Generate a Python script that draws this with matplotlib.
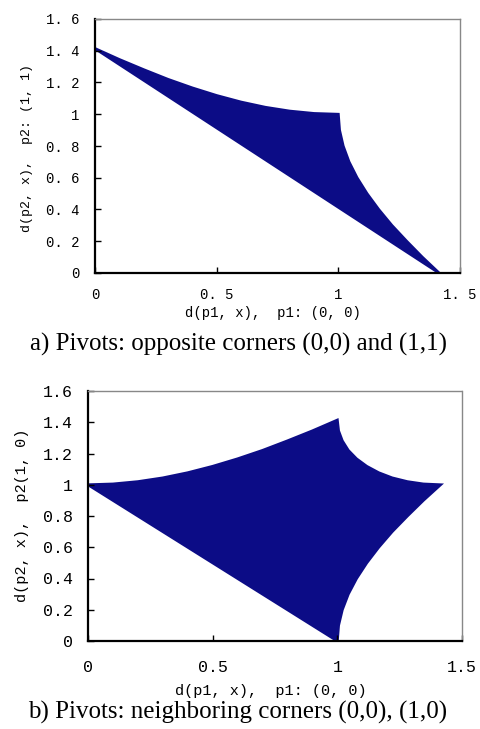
import matplotlib
matplotlib.use("Agg")
import matplotlib.pyplot as plt
from matplotlib.patches import Polygon

# Boundary of the point cloud, panel a (pivots (0,0) and (1,1))
a_d1 = [0.0, 0.1, 0.2, 0.3, 0.4, 0.5, 0.6, 0.7, 0.8, 0.9, 1.0,
        1.005, 1.02, 1.044, 1.077, 1.118, 1.166, 1.22, 1.281, 1.345, 1.414, 0.0]
a_d2 = [1.414, 1.345, 1.281, 1.22, 1.166, 1.118, 1.077, 1.044, 1.02, 1.005, 1.0,
        0.9, 0.8, 0.7, 0.6, 0.5, 0.4, 0.3, 0.2, 0.1, 0.0, 1.414]

# Boundary of the point cloud, panel b (pivots (0,0) and (1,0))
b_d1 = [0.0, 0.1, 0.2, 0.3, 0.4, 0.5, 0.6, 0.7, 0.8, 0.9, 1.0,
        1.005, 1.02, 1.044, 1.077, 1.118, 1.166, 1.22, 1.281, 1.345, 1.414,
        1.345, 1.281, 1.22, 1.166, 1.118, 1.077, 1.044, 1.02, 1.005, 1.0, 0.0]
b_d2 = [1.0, 1.005, 1.02, 1.044, 1.077, 1.118, 1.166, 1.22, 1.281, 1.345, 1.414,
        1.345, 1.281, 1.22, 1.166, 1.118, 1.077, 1.044, 1.02, 1.005, 1.0,
        0.9, 0.8, 0.7, 0.6, 0.5, 0.4, 0.3, 0.2, 0.1, 0.0, 1.0]

x_ticks = [0, 0.5, 1, 1.5]
y_ticks = [0, 0.2, 0.4, 0.6, 0.8, 1.0, 1.2, 1.4, 1.6]
x_ticklabels_a = ["0", "0. 5", "1", "1. 5"]
y_ticklabels_a = ["0", "0. 2", "0. 4", "0. 6", "0. 8", "1", "1. 2", "1. 4", "1. 6"]
x_ticklabels_b = ["0", "0.5", "1", "1.5"]
y_ticklabels_b = ["0", "0.2", "0.4", "0.6", "0.8", "1", "1.2", "1.4", "1.6"]

xlabel = "d(p1, x),  p1: (0, 0)"
ylabel_a = "d(p2, x),  p2: (1, 1)"
ylabel_b = "d(p2, x),  p2(1, 0)"
caption_a = "a) Pivots: opposite corners (0,0) and (1,1)"
caption_b = "b) Pivots: neighboring corners (0,0), (1,0)"

COLOR = "#0c0c86"
W, H = 480, 729
fig = plt.figure(figsize=(W / 100, H / 100), dpi=100)
mono = ["Liberation Mono", "DejaVu Sans Mono"]
serif = ["Liberation Serif", "DejaVu Serif"]


def px_axes(l, t, r, b):
    return fig.add_axes([l / W, 1 - b / H, (r - l) / W, (b - t) / H])


def style(ax, fs, xl, yl, xpad):
    ax.set_xlim(0, 1.5)
    ax.set_ylim(0, 1.6)
    ax.set_xticks(x_ticks)
    ax.set_xticklabels(xl, family=mono, fontsize=fs)
    ax.set_yticks(y_ticks)
    ax.set_yticklabels(yl, family=mono, fontsize=fs)
    ax.tick_params(direction="in", length=4, width=1, pad=11, top=False, right=False)
    ax.tick_params(axis="x", pad=xpad)
    for s in ("left", "bottom"):
        ax.spines[s].set_linewidth(1.6)
        ax.spines[s].set_color("black")
    for s in ("top", "right"):
        ax.spines[s].set_linewidth(1.0)
        ax.spines[s].set_color("#888888")
        ax.spines[s].set_linestyle((0, (1, 1)))


# Panel a
ax1 = px_axes(95, 19, 460, 273)
ax1.add_patch(Polygon(list(zip(a_d1, a_d2)), closed=True, facecolor=COLOR,
                      edgecolor=COLOR, linewidth=2))
style(ax1, 10, x_ticklabels_a, y_ticklabels_a, 11)
fig.text(273 / W, 1 - 313 / H, xlabel, family=mono, fontsize=10, ha="center", va="center")
fig.text(27 / W, 1 - 148 / H, ylabel_a, family=mono, fontsize=9.5, ha="center", va="center",
         rotation=90)
fig.text(238 / W, 1 - 344 / H, caption_a, family=serif, fontsize=18, ha="center", va="center")

# Panel b
ax2 = px_axes(88, 391, 462, 641)
ax2.add_patch(Polygon(list(zip(b_d1, b_d2)), closed=True, facecolor=COLOR,
                      edgecolor=COLOR, linewidth=2))
style(ax2, 12, x_ticklabels_b, y_ticklabels_b, 14)
fig.text(271 / W, 1 - 691 / H, xlabel, family=mono, fontsize=11, ha="center", va="center")
fig.text(22 / W, 1 - 515 / H, ylabel_b, family=mono, fontsize=11, ha="center", va="center",
         rotation=90)
fig.text(238 / W, 1 - 712 / H, caption_b, family=serif, fontsize=18, ha="center", va="center")

fig.savefig("out.png", dpi=100)
